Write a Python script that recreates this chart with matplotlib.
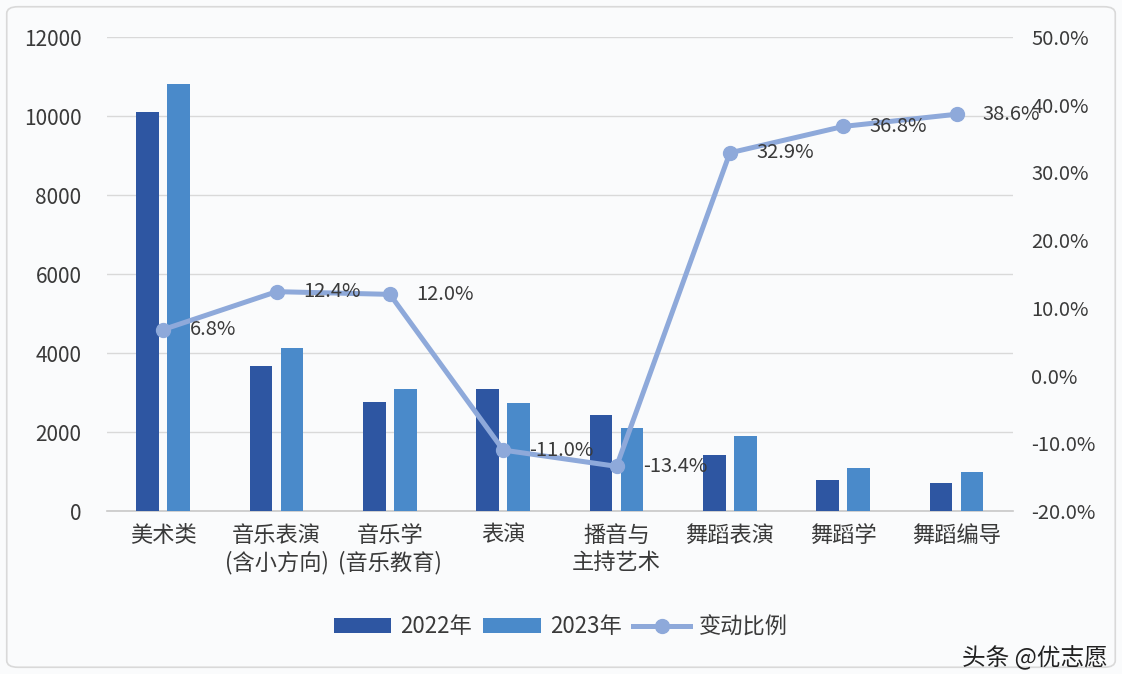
import numpy as np
import matplotlib.pyplot as plt
from matplotlib.patches import Patch, FancyBboxPatch
from matplotlib.lines import Line2D
from matplotlib.ticker import FuncFormatter

plt.rcParams['font.family'] = ['Noto Sans CJK SC', 'DejaVu Sans']

categories = ['美术类', '音乐表演\n(含小方向)', '音乐学\n(音乐教育)', '表演',
              '播音与\n主持艺术', '舞蹈表演', '舞蹈学', '舞蹈编导']
y2022 = [10100, 3670, 2750, 3080, 2420, 1430, 795, 715]
y2023 = [10800, 4120, 3080, 2740, 2095, 1900, 1088, 990]
change = [6.8, 12.4, 12.0, -11.0, -13.4, 32.9, 36.8, 38.6]

c22 = '#2E56A2'
c23 = '#4A8ACA'
cline = '#8EA9DA'
tcol = '#3a3a3a'

fig = plt.figure(figsize=(11.22, 6.74), dpi=100)
fig.patch.set_facecolor('#fafbfc')
fig.patches.append(FancyBboxPatch((0.006, 0.01), 0.988, 0.98,
                                  boxstyle='round,pad=0,rounding_size=0.01',
                                  transform=fig.transFigure, facecolor='none',
                                  edgecolor='#d9d9d9', lw=1.2))

ax = fig.add_axes([0.095, 0.2418, 0.808, 0.7032])
ax.set_facecolor('none')
x = np.arange(len(categories))
w = 0.2
ax.bar(x - 0.137, y2022, w, color=c22, label='2022年', zorder=3)
ax.bar(x + 0.137, y2023, w, color=c23, label='2023年', zorder=3)
ax.set_ylim(0, 12000)
ax.set_xlim(-0.5, len(categories) - 0.5)
ax.set_yticks(range(0, 12001, 2000))
ax.grid(axis='y', color='#d9d9d9', lw=1, zorder=0)
ax.set_axisbelow(True)
for s in ['top', 'right', 'left']:
    ax.spines[s].set_visible(False)
ax.spines['bottom'].set_color('#c8c8c8')
ax.spines['bottom'].set_linewidth(1.2)
ax.tick_params(axis='both', length=0, colors=tcol)
ax.tick_params(axis='y', labelsize=15, pad=18)
ax.tick_params(axis='x', labelsize=16, pad=9)
ax.set_xticks(x)
ax.set_xticklabels(categories, linespacing=1.25, va='top')

ax2 = ax.twinx()
ax2.plot(x, change, color=cline, lw=3.6, marker='o', markersize=10, zorder=4)
ax2.set_ylim(-20, 50)
ax2.set_yticks(range(-20, 51, 10))
ax2.yaxis.set_major_formatter(FuncFormatter(lambda v, p: f'{v:.1f}%'))
for s in ['top', 'right', 'left', 'bottom']:
    ax2.spines[s].set_visible(False)
ax2.tick_params(axis='y', length=0, labelsize=14.5, colors=tcol, pad=13)
for xi, v in zip(x, change):
    ax2.annotate(f'{v:.1f}%', (xi, v), xytext=(19, 0), textcoords='offset points',
                 ha='left', va='center', fontsize=14.5, color=tcol, zorder=5)

handles = [Patch(facecolor=c22), Patch(facecolor=c23),
           Line2D([], [], color=cline, lw=3.6, marker='o', markersize=10)]
fig.legend(handles, ['2022年', '2023年', '变动比例'], loc='center',
           bbox_to_anchor=(0.5, 0.07), ncol=3, frameon=False, fontsize=16,
           handlelength=2.6, handleheight=0.6, columnspacing=0.5, handletextpad=0.4,
           labelcolor=tcol)

fig.text(0.987, 0.024, '头条 @优志愿', fontsize=17, color='#222222', ha='right', va='center')

fig.savefig('out.png', dpi=100, facecolor=fig.get_facecolor())
